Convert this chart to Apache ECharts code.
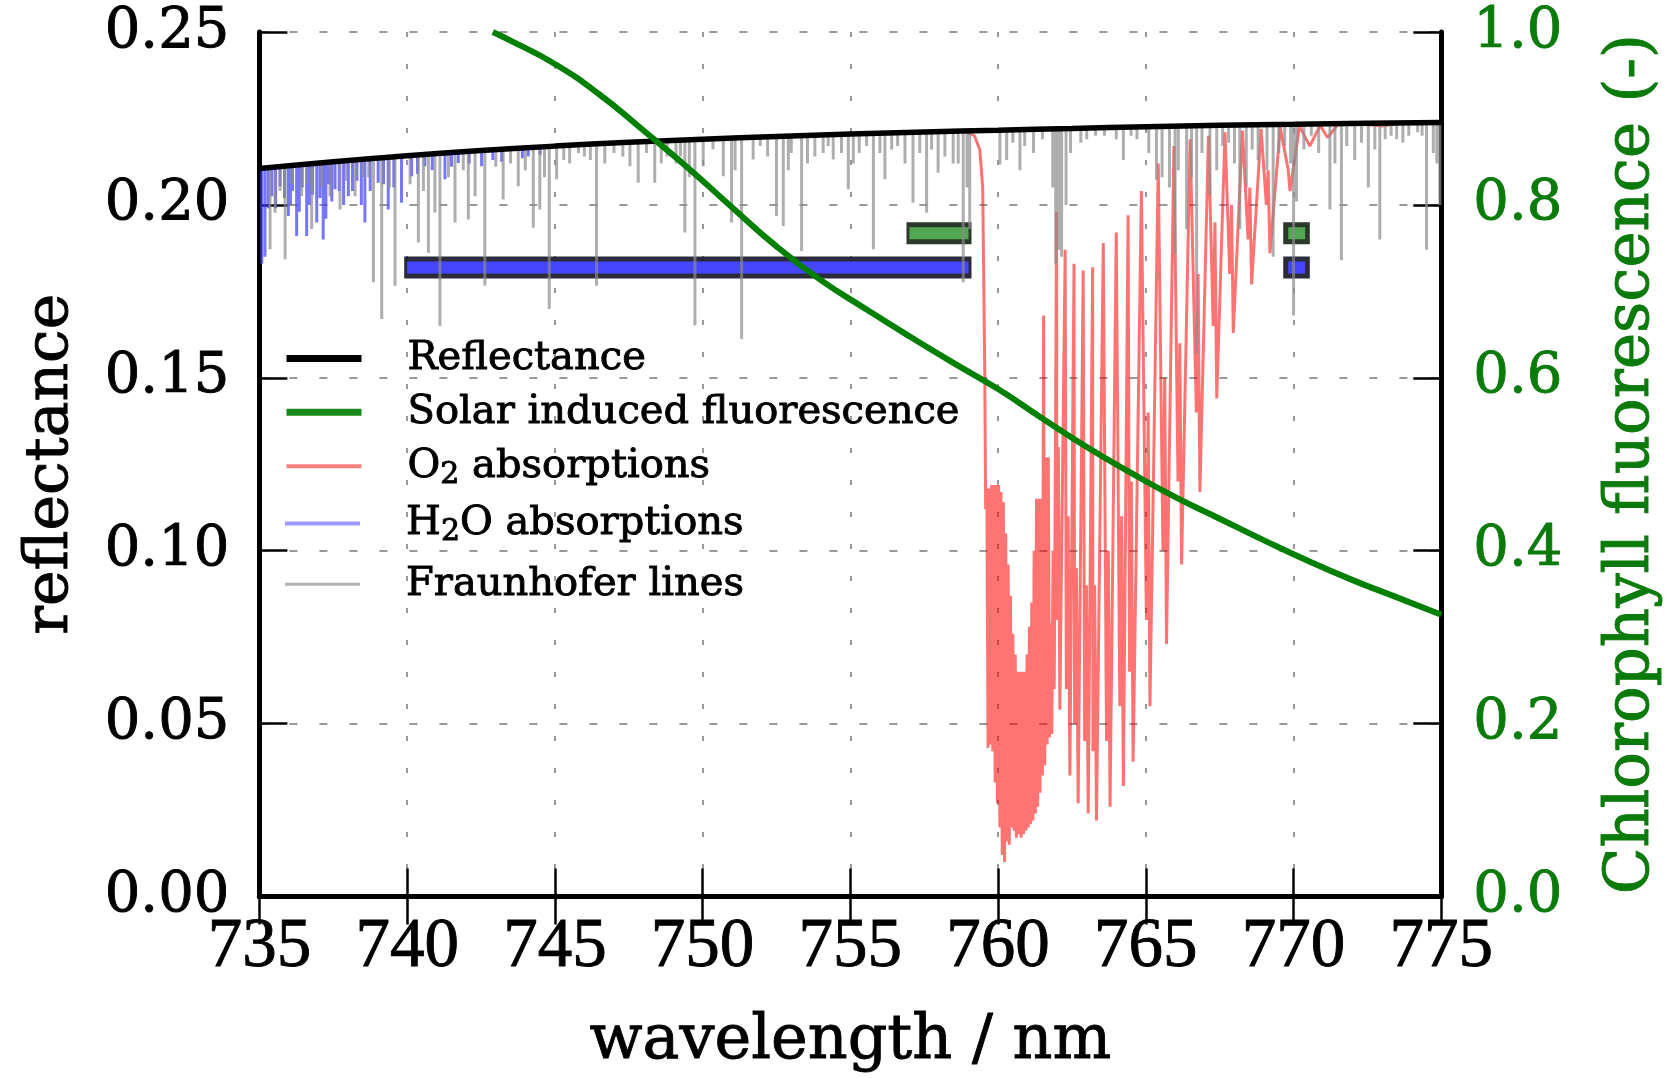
<!DOCTYPE html>
<html><head><meta charset="utf-8">
<script src="https://cdn.jsdelivr.net/npm/echarts@6/dist/echarts.min.js"></script>
<style>html,body{margin:0;padding:0;background:#fff}#c{width:1674px;height:1078px}</style>
</head><body><div id="c"></div>
<script>
// ---------- data ----------
const xTickMin = 735, xTickMax = 775, xTickStep = 5;

const reflWl  = [735,737.5,740,742.5,745,747.5,750,752.5,755,757.5,760,762.5,765,767.5,770,772.5,775];
const reflVal = [0.2105,0.2125,0.2142,0.2157,0.2170,0.2181,0.2190,0.2198,0.2205,0.2211,0.2216,0.2221,0.2226,0.2230,0.2233,0.2236,0.2238];

const sifWl  = [742.9,743.5,745,746.5,748,749.5,751,752.5,754,755.5,757,758.5,760,761.5,763,764.5,766,767.5,769,770.5,772,773.5,775];
const sifVal = [1.000,0.990,0.963,0.928,0.886,0.843,0.797,0.752,0.713,0.680,0.648,0.617,0.587,0.553,0.520,0.490,0.462,0.437,0.412,0.388,0.366,0.346,0.326];

// O2 absorption spectrum [wavelength, reflectance]
const o2Spectrum = [
[758.90,.2212],[759.20,.2200],[759.38,.2160],[759.48,.2050],[759.55,.1500],[759.58,.1120],
[759.62,.1180],[759.66,.0430],[759.70,.1180],[759.74,.0440],[759.78,.1190],[759.82,.0420],
[759.86,.1190],[759.90,.0330],[759.94,.1190],[759.98,.0270],[760.02,.1190],[760.06,.0200],
[760.10,.1170],[760.14,.0120],[760.18,.1140],[760.22,.0100],[760.26,.1050],[760.30,.0160],
[760.34,.0960],[760.38,.0150],[760.42,.0870],[760.46,.0200],[760.50,.0760],[760.54,.0190],
[760.58,.0700],[760.62,.0170],[760.66,.0650],[760.70,.0180],[760.74,.0650],[760.78,.0170],
[760.82,.0650],[760.86,.0180],[760.90,.0650],[760.94,.0190],[760.98,.0700],[761.02,.0200],
[761.06,.0780],[761.10,.0210],[761.14,.0850],[761.18,.0220],[761.22,.1000],[761.26,.0240],
[761.30,.1150],[761.34,.0260],[761.38,.1150],[761.42,.0300],[761.46,.1150],[761.50,.0350],
[761.54,.1680],[761.58,.0380],[761.62,.1270],[761.66,.0440],[761.70,.1270],[761.74,.0460],
[761.78,.0790],[761.82,.0470],[761.86,.1000],[761.90,.0600],[761.98,.1980],
[761.99,.0800],[762.04,.1300],[762.09,.0540],[762.27,.1870],
[762.31,.0600],[762.37,.1100],[762.43,.0350],[762.57,.1830],
[762.59,.0500],[762.65,.0950],[762.71,.0270],[762.88,.1810],
[762.93,.0450],[762.99,.0900],[763.05,.0240],[763.20,.1820],
[763.21,.0420],[763.27,.0900],[763.33,.0220],[763.56,.1890],
[763.67,.0450],[763.73,.1000],[763.79,.0260],[764.00,.1920],
[764.12,.0550],[764.18,.1100],[764.24,.0320],[764.40,.1970],
[764.45,.0650],[764.51,.1200],[764.57,.0390],[764.85,.2040],
[765.02,.0800],[765.08,.1400],[765.14,.0550],[765.42,.2120],
[765.58,.1000],[765.64,.1500],[765.70,.0730],[765.95,.2170],
[766.09,.1200],[766.15,.1600],[766.21,.0960],[766.50,.2190],
[766.71,.1400],[766.77,.1800],[766.83,.1170],[767.12,.2200],
[767.28,.1650],[767.34,.1950],[767.40,.1440],[767.68,.2210],
[767.84,.1800],[767.90,.2000],[767.96,.1630],[768.27,.2215],
[768.46,.1900],[768.52,.2050],[768.58,.1770],[768.90,.2220],
[769.08,.2000],[769.14,.2100],[769.20,.1860],[769.55,.2225],
[769.82,.2100],[769.88,.2040],[770.20,.2228],[770.55,.2170],[770.90,.2230],
[771.15,.2195],[771.50,.2232],[772.30,.2234],[773.00,.2228],[773.60,.2236],[775.00,.2237]
];

// H2O absorption lines [wavelength, line minimum, continuum]
const h2oLines = [
[735.08,.1830,.2104],[735.19,.1850,.2105],[735.30,.1990,.2105],[735.42,.2025,.2106],[735.55,.1990,.2107],
[735.70,.2054,.2108],[735.85,.2020,.2109],[735.98,.1968,.2110],[736.05,.2000,.2111],[736.12,.2040,.2111],
[736.26,.1910,.2112],[736.35,.1980,.2113],[736.45,.2050,.2113],[736.60,.1910,.2115],[736.70,.2000,.2116],
[736.80,.2030,.2116],[736.94,.1949,.2117],[737.05,.2020,.2118],[737.16,.1900,.2119],[737.25,.1960,.2120],
[737.35,.2060,.2120],[737.45,.2010,.2121],[737.56,.2045,.2122],[737.70,.2040,.2124],[737.85,.2000,.2125],
[738.01,.2025,.2126],[738.15,.2040,.2127],[738.30,.2070,.2128],[738.45,.2000,.2129],[738.57,.1949,.2130],
[738.75,.2040,.2131],[739.02,.2064,.2133],[739.20,.2060,.2135],[739.36,.1987,.2136],[739.55,.2050,.2137],
[739.81,.2006,.2140],[740.15,.2083,.2143],[740.35,.2090,.2144],[740.60,.2112,.2146],[740.85,.2100,.2147],
[741.28,.2074,.2150],[741.50,.2110,.2151],[741.73,.2121,.2153],[742.10,.2120,.2155],[742.52,.2112,.2157],
[742.90,.2130,.2160],[743.20,.2125,.2161],[743.90,.2135,.2164],[744.10,.2140,.2165],[744.50,.2145,.2168]
];

// Fraunhofer lines [wavelength, line minimum, continuum]
const fraunLines = [
[735.36,.1872,.2105],[735.53,.1977,.2106],[735.70,.2040,.2108],[735.87,.1843,.2109],[736.10,.2060,.2111],
[736.43,.2025,.2113],[736.60,.2060,.2115],[736.77,.1930,.2116],[737.10,.2050,.2119],[737.39,.2025,.2121],
[737.73,.1987,.2124],[737.95,.2070,.2126],[738.24,.2025,.2128],[738.50,.2080,.2130],[738.70,.2080,.2131],
[738.86,.1776,.2132],[739.14,.1670,.2134],[739.40,.2050,.2136],[739.59,.1766,.2137],[740.10,.2060,.2143],
[740.38,.1891,.2144],[740.55,.2040,.2146],[740.72,.1862,.2146],[740.94,.1977,.2148],[741.11,.1650,.2149],
[741.40,.2080,.2151],[741.62,.1949,.2152],[741.90,.2100,.2154],[742.07,.1958,.2155],[742.30,.2025,.2156],
[742.63,.1766,.2158],[743.00,.2110,.2160],[743.25,.2016,.2161],[743.50,.2120,.2162],[743.76,.2054,.2164],
[744.00,.2100,.2165],[744.27,.1934,.2167],[744.49,.1987,.2168],[744.65,.2080,.2168],[744.81,.1699,.2169],
[745.06,.2074,.2170],[745.30,.2130,.2172],[745.50,.2120,.2173],[745.80,.2150,.2174],[746.00,.2140,.2175],
[746.20,.2130,.2176],[746.41,.1766,.2177],[746.69,.2120,.2178],[747.00,.2150,.2179],[747.30,.2140,.2180],
[747.54,.2112,.2181],[747.82,.2064,.2182],[748.10,.2150,.2183],[748.38,.2064,.2184],[748.60,.2120,.2185],
[748.80,.2140,.2186],[749.10,.2120,.2187],[749.25,.2140,.2188],[749.40,.1920,.2188],[749.55,.2080,.2188],
[749.74,.1651,.2189],[750.02,.2112,.2190],[750.35,.2160,.2191],[750.70,.2083,.2192],[750.98,.1949,.2193],
[751.10,.2100,.2193],[751.32,.1612,.2194],[751.71,.2131,.2195],[751.95,.2170,.2196],[752.20,.2140,.2197],
[752.50,.1968,.2198],[752.73,.1939,.2199],[752.90,.2100,.2199],[753.00,.2150,.2199],[753.35,.1867,.2200],
[753.55,.2120,.2201],[753.80,.2140,.2201],[754.08,.2150,.2202],[754.25,.2170,.2203],[754.42,.2131,.2203],
[754.70,.2150,.2204],[754.93,.2045,.2205],[755.10,.2120,.2205],[755.30,.2150,.2206],[755.55,.2170,.2206],
[755.78,.1872,.2207],[756.00,.2150,.2208],[756.17,.2074,.2208],[756.40,.2160,.2208],[756.60,.2170,.2209],
[756.85,.2120,.2209],[757.12,.2006,.2210],[757.35,.2150,.2210],[757.58,.1977,.2211],[757.75,.2160,.2211],
[757.97,.2093,.2212],[758.20,.2140,.2212],[758.48,.2120,.2213],[758.65,.2120,.2213],[758.82,.1776,.2214],
[758.95,.2050,.2214],[759.04,.1930,.2214],[760.06,.2117,.2216],[760.29,.2130,.2217],[760.50,.2180,.2217],
[760.74,.2100,.2218],[760.90,.2170,.2218],[761.20,.2150,.2219],[761.50,.2190,.2219],[761.85,.2050,.2220],
[761.95,.1830,.2220],[762.05,.1870,.2220],[762.15,.1850,.2221],[762.30,.2000,.2221],[762.45,.2150,.2221],
[762.80,.2180,.2222],[763.00,.2190,.2222],[763.30,.2200,.2222],[763.60,.2200,.2223],[764.00,.2190,.2224],
[764.24,.2130,.2224],[764.50,.2200,.2225],[764.70,.2190,.2225],[765.10,.2150,.2226],[765.36,.2073,.2227],
[765.55,.2080,.2227],[765.80,.2050,.2227],[765.99,.1860,.2228],[766.10,.2100,.2228],[766.38,.1930,.2228],
[766.55,.2080,.2228],[766.72,.1570,.2229],[766.90,.2150,.2229],[767.17,.2030,.2230],[767.40,.2100,.2230],
[767.60,.2170,.2230],[767.80,.2180,.2231],[768.00,.2120,.2231],[768.18,.1930,.2231],[768.40,.2050,.2231],
[768.60,.2160,.2232],[768.80,.2130,.2232],[769.10,.2100,.2232],[769.31,.1850,.2232],[769.50,.2150,.2232],
[769.70,.2170,.2233],[769.90,.2120,.2233],[770.00,.1680,.2233],[770.10,.2010,.2233],[770.35,.2160,.2233],
[770.60,.2200,.2234],[770.85,.2150,.2234],[771.23,.1987,.2234],[771.40,.2120,.2235],[771.62,.1840,.2235],
[771.80,.2170,.2235],[772.07,.2130,.2236],[772.30,.2180,.2236],[772.53,.2050,.2236],[772.75,.2160,.2236],
[772.92,.1900,.2236],[773.10,.2190,.2237],[773.30,.2200,.2237],[773.49,.2190,.2237],[773.70,.2180,.2237],
[773.90,.2200,.2237],[774.20,.2210,.2238],[774.35,.2200,.2238],[774.50,.1870,.2238],[774.73,.2150,.2238],
[774.85,.2120,.2238],[774.95,.2000,.2238]
];

// retrieval windows: [start, end] in nm, and level on the reflectance axis
const blueWinOuter  = [[739.90,759.10],[769.65,770.55]];
const blueWinInner  = [[740.00,759.00],[769.82,770.39]];
const blueWinLevel  = 0.1819;
const greenWinOuter = [[756.90,759.10],[769.65,770.55]];
const greenWinInner = [[757.00,759.00],[769.82,770.39]];
const greenWinLevel = 0.1918;

// ---------- build series data ----------
const pairs = (xs, ys) => xs.map((x, i) => [x, ys[i]]);
const segs = lines => { const out = []; lines.forEach(l => { out.push([l[0], l[2]], [l[0], l[1]], [l[0], '-']); }); return out; };
const wins = (ranges, lvl) => { const out = []; ranges.forEach(r => { out.push([r[0], lvl], [r[1], lvl], [r[1], '-']); }); return out; };

const SERIF = 'DejaVu Serif';
const GREEN = '#008000';
const GREEN_TXT = '#0a7a0a';
const heavy = c => ({textBorderColor: c, textBorderWidth: 0.9});

const chart = echarts.init(document.getElementById('c'), null, {renderer: 'canvas'});
const axisLineStyle = {color: '#000', width: 5};
const tickStyle = {color: '#000', width: 2.5};
const hideSym = {opacity: 0, borderWidth: 0};

const legendText = Object.assign({
  fontFamily: SERIF, fontSize: 40, color: '#000', padding: [0, 0, 0, 41],
  rich: {s: Object.assign({fontFamily: SERIF, fontSize: 30, color: '#000', padding: [18, 0, 0, 0]}, heavy('#000'))}
}, heavy('#000'));
const legendBase = {
  orient: 'vertical', left: 278, itemWidth: 75, itemHeight: 14,
  textStyle: legendText,
  formatter: n => n.replace('₂', '{s|2}')
};

chart.setOption({
  animation: false,
  backgroundColor: '#fff',
  grid: {left: 259.4, right: 232.7, top: 32, bottom: 179, containLabel: false},
  legend: [
    Object.assign({}, legendBase, {top: 333, itemGap: 13, data: [
      {name: 'Reflectance', lineStyle: {width: 7, color: '#000'}, itemStyle: hideSym},
      {name: 'Solar induced fluorescence', lineStyle: {width: 7, color: '#1a8a1a'}, itemStyle: hideSym},
      {name: 'O₂ absorptions', lineStyle: {width: 4, color: '#ff8080'}, itemStyle: hideSym}
    ]}),
    Object.assign({}, legendBase, {top: 498, itemGap: 16, data: [
      {name: 'H₂O absorptions', lineStyle: {width: 4, color: '#9a9aff'}, itemStyle: hideSym},
      {name: 'Fraunhofer lines', lineStyle: {width: 3, color: '#b0b0b0'}, itemStyle: hideSym}
    ]})
  ],
  xAxis: [
    {type: 'value', min: xTickMin, max: xTickMax, interval: xTickStep, position: 'bottom',
     name: 'wavelength / nm', nameLocation: 'middle', nameGap: 114,
     nameTextStyle: Object.assign({fontFamily: SERIF, fontSize: 62, color: '#000'}, heavy('#000')),
     axisLine: {show: true, lineStyle: axisLineStyle},
     axisTick: {show: true, inside: true, length: 28, lineStyle: tickStyle},
     axisLabel: Object.assign({fontFamily: 'Liberation Serif', fontSize: 69, color: '#000', margin: 17}, heavy('#000')),
     splitLine: {show: true, lineStyle: {color: '#999', width: 2, type: [5, 27]}}},
    {type: 'value', min: xTickMin, max: xTickMax, interval: xTickStep, position: 'top',
     axisLine: {show: true, lineStyle: axisLineStyle},
     axisTick: {show: true, inside: true, length: 28, lineStyle: tickStyle},
     axisLabel: {show: false}, splitLine: {show: false}}
  ],
  yAxis: [
    {type: 'value', min: 0, max: 0.25, interval: 0.05, position: 'left',
     name: 'reflectance', nameLocation: 'middle', nameRotate: 90, nameGap: 178,
     nameTextStyle: Object.assign({fontFamily: SERIF, fontSize: 60, color: '#000'}, heavy('#000')),
     axisLine: {show: true, lineStyle: axisLineStyle},
     axisTick: {show: true, inside: true, length: 28, lineStyle: tickStyle},
     axisLabel: Object.assign({fontFamily: SERIF, fontSize: 56, color: '#000', margin: 30, formatter: v => v.toFixed(2)}, heavy('#000')),
     splitLine: {show: true, lineStyle: {color: '#999', width: 2, type: [8, 22]}}},
    {type: 'value', min: 0, max: 1, interval: 0.2, position: 'right',
     name: 'Chlorophyll fluorescence (-)', nameLocation: 'middle', nameRotate: 90, nameGap: 160,
     nameTextStyle: Object.assign({fontFamily: SERIF, fontSize: 61, color: GREEN_TXT}, heavy(GREEN_TXT)),
     axisLine: {show: true, lineStyle: axisLineStyle},
     axisTick: {show: true, inside: true, length: 28, lineStyle: tickStyle},
     axisLabel: Object.assign({fontFamily: SERIF, fontSize: 56, color: GREEN_TXT, margin: 32, formatter: v => v.toFixed(1)}, heavy(GREEN_TXT)),
     splitLine: {show: false}}
  ],
  series: [
    {name: 'win-blue-outer', type: 'line', z: 1, silent: true, symbol: 'none', data: wins(blueWinOuter, blueWinLevel),
     lineStyle: {color: 'rgba(25,25,40,0.92)', width: 22, cap: 'butt'}},
    {name: 'win-blue-inner', type: 'line', z: 1, silent: true, symbol: 'none', data: wins(blueWinInner, blueWinLevel),
     lineStyle: {color: '#4646ff', width: 12, cap: 'butt'}},
    {name: 'win-green-outer', type: 'line', z: 1, silent: true, symbol: 'none', data: wins(greenWinOuter, greenWinLevel),
     lineStyle: {color: 'rgba(25,40,25,0.92)', width: 22, cap: 'butt'}},
    {name: 'win-green-inner', type: 'line', z: 1, silent: true, symbol: 'none', data: wins(greenWinInner, greenWinLevel),
     lineStyle: {color: '#52a852', width: 12, cap: 'butt'}},
    {name: 'O₂ absorptions', type: 'line', z: 2, symbol: 'none', data: o2Spectrum,
     lineStyle: {color: 'rgba(255,0,0,0.55)', width: 3}, itemStyle: {color: '#ff8080'}},
    {name: 'H₂O absorptions', type: 'line', z: 3, symbol: 'none', data: segs(h2oLines),
     lineStyle: {color: 'rgba(60,60,255,0.7)', width: 3, cap: 'butt'}, itemStyle: {color: '#9a9aff'}},
    {name: 'Fraunhofer lines', type: 'line', z: 4, symbol: 'none', data: segs(fraunLines),
     lineStyle: {color: 'rgba(140,140,140,0.7)', width: 3, cap: 'butt'}, itemStyle: {color: '#b0b0b0'}},
    {name: 'Reflectance', type: 'line', z: 5, symbol: 'none', smooth: true, data: pairs(reflWl, reflVal),
     lineStyle: {color: '#000', width: 5.5}, itemStyle: {color: '#000'}},
    {name: 'Solar induced fluorescence', type: 'line', z: 6, symbol: 'none', smooth: true, yAxisIndex: 1,
     data: pairs(sifWl, sifVal), lineStyle: {color: GREEN, width: 6}, itemStyle: {color: GREEN}}
  ]
});
</script>
</body></html>
